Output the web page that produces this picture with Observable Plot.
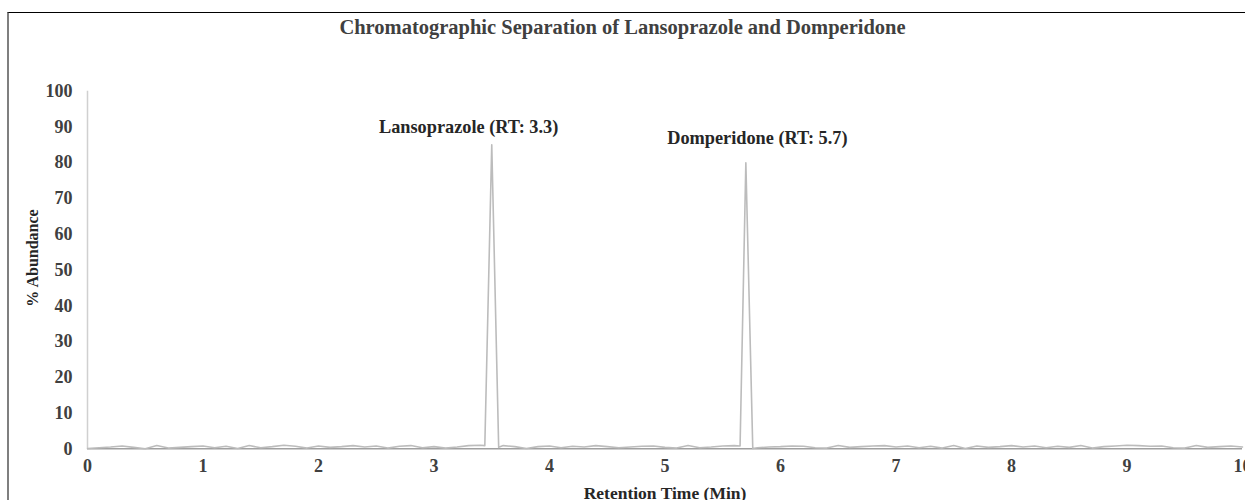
<!DOCTYPE html>
<html>
<head>
<meta charset="utf-8">
<script src="https://cdn.jsdelivr.net/npm/d3@7"></script>
<script src="https://cdn.jsdelivr.net/npm/@observablehq/plot@0.6"></script>
<style>
  html, body { margin: 0; padding: 0; background: #fff; }
  #page { position: relative; width: 1245px; height: 500px; overflow: hidden; background: #fff; }
  #frame { position: absolute; left: 7px; top: 12px; width: 1400px; height: 700px;
           border-left: 2px solid #7f7f7f; border-top: 1.5px solid #000; box-sizing: border-box; }
  #title { position: absolute; top: 16px; left: 0; width: 1245px; text-align: center;
           font-family: "Liberation Serif", "Times New Roman", Times, "DejaVu Serif", serif;
           font-weight: bold; font-size: 20.5px; color: #404040; }
  #chart { position: absolute; left: 0; top: 50px; }
</style>
</head>
<body>
<div id="page">
  <div id="frame"></div>
  <div id="title">Chromatographic Separation of Lansoprazole and Domperidone</div>
  <div id="chart"></div>
</div>
<script>
// Retention time (min) and % abundance
const times = [
  0.0, 0.1, 0.2, 0.3, 0.4, 0.5, 0.6, 0.7, 0.8, 0.9,
  1.0, 1.1, 1.2, 1.3, 1.4, 1.5, 1.6, 1.7, 1.8, 1.9,
  2.0, 2.1, 2.2, 2.3, 2.4, 2.5, 2.6, 2.7, 2.8, 2.9,
  3.0, 3.1, 3.2, 3.3, 3.4, 3.44, 3.5, 3.56, 3.6, 3.7, 3.8, 3.9,
  4.0, 4.1, 4.2, 4.3, 4.4, 4.5, 4.6, 4.7, 4.8, 4.9,
  5.0, 5.1, 5.2, 5.3, 5.4, 5.5, 5.6, 5.65, 5.7, 5.76, 5.8, 5.9,
  6.0, 6.1, 6.2, 6.3, 6.4, 6.5, 6.6, 6.7, 6.8, 6.9,
  7.0, 7.1, 7.2, 7.3, 7.4, 7.5, 7.6, 7.7, 7.8, 7.9,
  8.0, 8.1, 8.2, 8.3, 8.4, 8.5, 8.6, 8.7, 8.8, 8.9,
  9.0, 9.1, 9.2, 9.3, 9.4, 9.5, 9.6, 9.7, 9.8, 9.9, 10.0
];
const abundance = [
  0.1, 0.3, 0.5, 0.8, 0.4, 0.0, 0.9, 0.2, 0.4, 0.6,
  0.8, 0.3, 0.7, 0.1, 0.9, 0.3, 0.6, 1.0, 0.7, 0.2,
  0.8, 0.4, 0.6, 0.9, 0.5, 0.8, 0.2, 0.7, 0.9, 0.3,
  0.6, 0.2, 0.5, 0.9, 1.0, 0.9, 85, 0.4, 0.9, 0.6, 0.1, 0.6,
  0.8, 0.3, 0.7, 0.5, 0.9, 0.6, 0.3, 0.5, 0.7, 0.8,
  0.4, 0.2, 0.9, 0.3, 0.5, 0.8, 0.9, 0.8, 80, 0.1, 0.3, 0.5,
  0.6, 0.8, 0.7, 0.3, 0.2, 0.9, 0.4, 0.6, 0.8, 0.9,
  0.5, 0.8, 0.3, 0.7, 0.2, 0.9, 0.1, 0.8, 0.4, 0.6,
  0.9, 0.5, 0.8, 0.3, 0.7, 0.4, 0.9, 0.2, 0.6, 0.8,
  1.0, 0.9, 0.7, 0.8, 0.3, 0.2, 0.9, 0.4, 0.6, 0.8, 0.5
];
const peakLabels = ["Lansoprazole (RT: 3.3)", "Domperidone (RT: 5.7)"];
const peakLabelX = [3.3, 5.8];
const peakLabelY = [90, 87];
const xTicks = [0, 1, 2, 3, 4, 5, 6, 7, 8, 9, 10];
const yTicks = [0, 10, 20, 30, 40, 50, 60, 70, 80, 90, 100];

const signal = times.map((t, i) => ({t, a: abundance[i]}));
const labels = peakLabels.map((s, i) => ({s, x: peakLabelX[i], y: peakLabelY[i]}));

const font = "'Liberation Serif', 'Times New Roman', Times, 'DejaVu Serif', serif";
const txt = "#404040";
const fmt = d => String(d);

const chart = Plot.plot({
  width: 1245,
  height: 450,
  marginLeft: 87,
  marginRight: 3,
  marginTop: 40.7,
  marginBottom: 51.7,
  style: {fontFamily: font, fontWeight: "bold", fontSize: "16px", color: txt, background: "transparent"},
  x: {domain: [0, 10], label: null},
  y: {domain: [0, 100], label: null},
  marks: [
    Plot.ruleX([0], {stroke: "#d0d0d0", strokeWidth: 1.5}),
    Plot.ruleY([0], {stroke: "#a0a0a0", strokeWidth: 1.5}),
    Plot.line(signal, {x: "t", y: "a", stroke: "#bcbcbc", strokeWidth: 1.6, curve: "linear"}),
    Plot.axisX(xTicks, {tickSize: 0, tickPadding: 10, fontSize: 18, fill: txt, label: null, tickFormat: fmt, fontFamily: font}),
    Plot.axisY(yTicks, {tickSize: 0, tickPadding: 15, fontSize: 18, fill: txt, label: null, tickFormat: fmt, fontFamily: font}),
    Plot.text(labels, {x: "x", y: "y", text: "s", fontSize: 18.3, fill: "#262626", lineAnchor: "middle", fontFamily: font}),
    Plot.text(["Retention Time (Min)"], {frameAnchor: "bottom", text: d => d, dy: 45, fontSize: 17.5, fill: "#262626", lineAnchor: "middle", textAnchor: "middle", fontFamily: font}),
    Plot.text(["% Abundance"], {frameAnchor: "left", text: d => d, rotate: -90, dx: -55, dy: -12, fontSize: 16, fill: "#262626", lineAnchor: "middle", textAnchor: "middle", fontFamily: font})
  ]
});
document.getElementById("chart").appendChild(chart);
</script>
</body>
</html>
